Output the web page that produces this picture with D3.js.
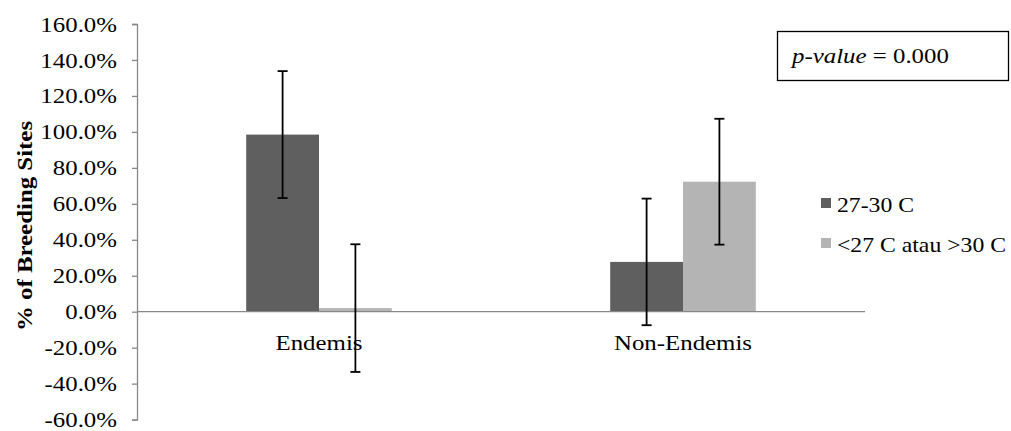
<!DOCTYPE html>
<html>
<head>
<meta charset="utf-8">
<script src="https://cdn.jsdelivr.net/npm/d3@7/dist/d3.min.js"></script>
<style>
  html, body { margin: 0; padding: 0; background: #fff; }
  svg { display: block; }
  text { font-family: "Liberation Serif", "Times New Roman", serif; fill: #000; }
</style>
</head>
<body>
<svg id="chart" width="1011" height="431"></svg>
<script>
const categories = ["Endemis", "Non-Endemis"];
const seriesNames = ["27-30 C", "<27 C atau >30 C"];
const valuesTemp2730 = [98.5, 27.7];
const valuesTempOther = [2.0, 72.3];
const errorsTemp2730 = [35.3, 35.2];
const errorsTempOther = [35.5, 35.0];
const yTicks = [-60, -40, -20, 0, 20, 40, 60, 80, 100, 120, 140, 160];
const colors = ["#5f5f5f", "#b4b4b4"];

const seriesValues = [valuesTemp2730, valuesTempOther];
const seriesErrors = [errorsTemp2730, errorsTempOther];
const SX = 1.13; // horizontal glyph stretch

const svg = d3.select("#chart");

const x0 = d3.scaleBand().domain(categories).range([137, 865]).padding(0);
const bw = x0.bandwidth();
const x1 = d3.scaleBand().domain(seriesNames).range([bw * 0.3, bw * 0.7]).padding(0);
const y = d3.scaleLinear().domain([-60, 160]).range([419.6, 24]);

// Y axis
const yAxis = d3.axisLeft(y).tickValues(yTicks).tickSize(5).tickPadding(14)
  .tickFormat(d => d.toFixed(1) + "%");
const gy = svg.append("g").attr("transform", "translate(137,0)").call(yAxis);
gy.attr("font-family", null);
gy.select(".domain").attr("stroke", "#888").attr("stroke-width", 1.3);
gy.selectAll(".tick line").attr("stroke", "#888").attr("stroke-width", 1.3);
gy.selectAll(".tick text")
  .attr("x", 0)
  .attr("transform", `translate(-20,0) scale(${SX},1)`)
  .style("font-family", "'Liberation Serif', serif").style("font-size", "22px").attr("fill", "#000");

// Bars
const data = [];
categories.forEach((c, i) => {
  seriesNames.forEach((s, j) => {
    data.push({ cat: c, ser: s, val: seriesValues[j][i], err: seriesErrors[j][i], color: colors[j] });
  });
});

svg.append("g").selectAll("rect").data(data).join("rect")
  .attr("x", d => x0(d.cat) + x1(d.ser))
  .attr("width", x1.bandwidth())
  .attr("y", d => y(Math.max(0, d.val)))
  .attr("height", d => Math.abs(y(d.val) - y(0)))
  .attr("fill", d => d.color);

// Zero line
svg.append("line")
  .attr("x1", 137).attr("x2", 865)
  .attr("y1", y(0)).attr("y2", y(0))
  .attr("stroke", "#888").attr("stroke-width", 1.3);

// Error bars
const eb = svg.append("g").selectAll("g").data(data).join("g");
const cx = d => x0(d.cat) + x1(d.ser) + x1.bandwidth() / 2;
eb.append("line")
  .attr("x1", cx).attr("x2", cx)
  .attr("y1", d => y(d.val + d.err)).attr("y2", d => y(d.val - d.err))
  .attr("stroke", "#000").attr("stroke-width", 1.8);
eb.append("line")
  .attr("x1", d => cx(d) - 5).attr("x2", d => cx(d) + 5)
  .attr("y1", d => y(d.val + d.err)).attr("y2", d => y(d.val + d.err))
  .attr("stroke", "#000").attr("stroke-width", 1.8);
eb.append("line")
  .attr("x1", d => cx(d) - 5).attr("x2", d => cx(d) + 5)
  .attr("y1", d => y(d.val - d.err)).attr("y2", d => y(d.val - d.err))
  .attr("stroke", "#000").attr("stroke-width", 1.8);

// Category labels
svg.append("g").selectAll("text").data(categories).join("text")
  .attr("transform", d => `translate(${x0(d) + bw / 2},350) scale(${SX},1)`)
  .attr("text-anchor", "middle")
  .style("font-size", "22px")
  .text(d => d);

// Y axis title
svg.append("text")
  .attr("transform", `translate(32,226) rotate(-90) scale(${SX},1)`)
  .attr("text-anchor", "middle")
  .style("font-size", "22px")
  .style("font-weight", "bold")
  .text("% of Breeding Sites");

// Legend
const lg = svg.append("g").selectAll("g").data(seriesNames).join("g")
  .attr("transform", (d, i) => `translate(821,${198 + i * 40})`);
lg.append("rect").attr("width", 10).attr("height", 10).attr("fill", (d, i) => colors[i]);
lg.append("text")
  .attr("transform", `translate(16,13.5) scale(${SX},1)`)
  .style("font-size", "21px").text(d => d);

// p-value box
svg.append("rect")
  .attr("x", 777.5).attr("y", 31.5).attr("width", 231).attr("height", 49)
  .attr("fill", "#fff").attr("stroke", "#000").attr("stroke-width", 1.3);
const pt = svg.append("text")
  .attr("transform", `translate(792,63) scale(${SX},1)`)
  .style("font-size", "22px");
pt.append("tspan").style("font-style", "italic").text("p-value");
pt.append("tspan").text(" = 0.000");
</script>
</body>
</html>
